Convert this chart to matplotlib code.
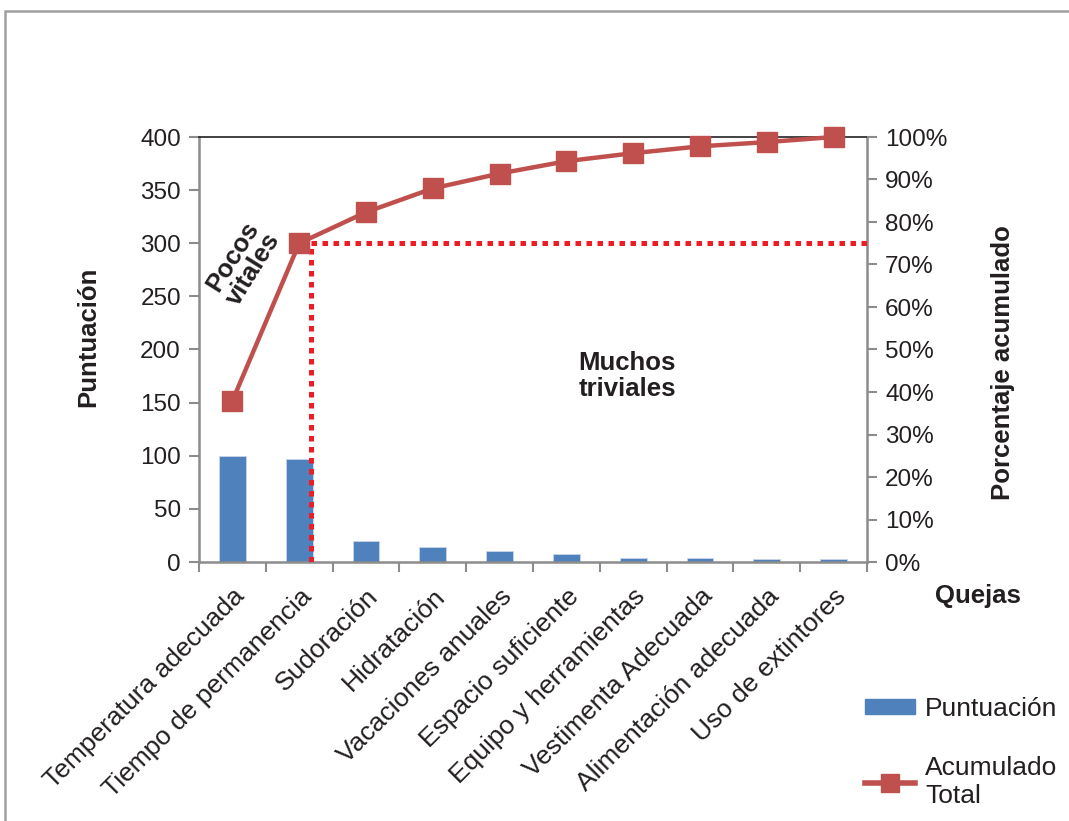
import matplotlib
matplotlib.use("Agg")
import matplotlib.pyplot as plt
from matplotlib.lines import Line2D
from matplotlib.patches import Patch, Rectangle
from matplotlib.ticker import FuncFormatter

plt.rcParams['font.family'] = ['Liberation Sans', 'DejaVu Sans']

# Complaint categories and their scores
quejas = [
    "Temperatura adecuada", "Tiempo de permanencia", "Sudoración", "Hidratación",
    "Vacaciones anuales", "Espacio suficiente", "Equipo y herramientas",
    "Vestimenta Adecuada", "Alimentación adecuada", "Uso de extintores",
]
puntuacion = [100, 97, 20, 14, 10, 8, 4, 4, 3, 3]
acumulado_pct = [37.9, 75.0, 82.3, 87.9, 91.4, 94.3, 96.2, 97.8, 98.8, 100.0]

# Pareto cut between the "vital few" and the "trivial many"
corte_pct = 75.0
corte_x = 1.17

BAR_COLOR = "#4F81BD"
LINE_COLOR = "#C0504D"
CUT_COLOR = "#EE1C25"
AXIS_GRAY = "#8C8C8C"
TEXT_COLOR = "#231F20"

fig = plt.figure(figsize=(10.69, 8.21), dpi=100)
ax = fig.add_axes([199 / 1069, 1 - 562 / 821, (867 - 199) / 1069, (562 - 137) / 821])

x = list(range(len(quejas)))
ax.bar(x, puntuacion, width=0.4, color=BAR_COLOR, edgecolor="#C9D6EA", linewidth=0.6, zorder=2)
ax.set_xlim(-0.5, len(quejas) - 0.5)
ax.set_ylim(0, 400)
ax.set_yticks(range(0, 401, 50))

# category ticks sit between bars, labels under the bar centres
ax.set_xticks([i - 0.5 for i in range(len(quejas) + 1)])
ax.set_xticklabels([])
ax.set_xticks(x, minor=True)
ax.set_xticklabels(quejas, minor=True, rotation=45, ha="right", va="top",
                   rotation_mode="anchor", fontsize=19, color=TEXT_COLOR)
ax.tick_params(axis="x", which="minor", length=0, pad=16)
ax.tick_params(axis="x", which="major", length=7, width=1.5, color=AXIS_GRAY)
ax.tick_params(axis="y", length=7, width=1.5, color=AXIS_GRAY, labelsize=17.5,
               labelcolor=TEXT_COLOR, pad=6)

for side in ("left", "bottom", "right"):
    ax.spines[side].set_color(AXIS_GRAY)
    ax.spines[side].set_linewidth(1.8)
ax.spines["top"].set_color("#222222")
ax.spines["top"].set_linewidth(1.2)

# cumulative percentage on the secondary axis
ax2 = ax.twinx()
ax2.set_ylim(0, 100)
ax2.set_yticks(range(0, 101, 10))
ax2.yaxis.set_major_formatter(FuncFormatter(lambda v, _: f"{int(v)}%"))
ax2.tick_params(axis="y", length=7, width=1.5, color=AXIS_GRAY, labelsize=17.5,
                labelcolor=TEXT_COLOR, pad=6)
for side in ("left", "bottom", "right", "top"):
    ax2.spines[side].set_visible(False)

ax2.plot([corte_x, corte_x], [0, corte_pct], color=CUT_COLOR, linewidth=3.6,
         linestyle=(0, (1.1, 1.1)), zorder=3)
ax2.plot([corte_x, len(quejas) - 0.5], [corte_pct, corte_pct], color=CUT_COLOR,
         linewidth=3.6, linestyle=(0, (1.1, 1.1)), zorder=3, clip_on=False)
ax2.plot(x, acumulado_pct, color=LINE_COLOR, linewidth=3.2, marker="s",
         markersize=14, markerfacecolor=LINE_COLOR, markeredgecolor=LINE_COLOR,
         zorder=4, clip_on=False)

fig.text(88 / 1069, 1 - 337 / 821, "Puntuación", rotation=90, ha="center",
         va="center", fontsize=18.5, fontweight="bold", color=TEXT_COLOR)
fig.text(1003 / 1069, 1 - 363 / 821, "Porcentaje acumulado", rotation=90,
         ha="center", va="center", fontsize=18.5, fontweight="bold", color=TEXT_COLOR)
fig.text(978 / 1069, 1 - 596 / 821, "Quejas", ha="center", va="center",
         fontsize=18.5, fontweight="bold", color=TEXT_COLOR)

fig.text(243 / 1069, 1 - 263 / 821, "Pocos\nvitales", rotation=58, ha="center",
         va="center", fontsize=18.5, fontweight="bold", color=TEXT_COLOR,
         linespacing=1.0)
fig.text(627 / 1069, 1 - 376 / 821, "Muchos\ntriviales", ha="center", va="center",
         fontsize=18.5, fontweight="bold", color=TEXT_COLOR, linespacing=1.15)

handles = [
    Patch(facecolor=BAR_COLOR, edgecolor=BAR_COLOR),
    Line2D([0], [0], color=LINE_COLOR, linewidth=4, marker="s", markersize=13),
]
fig.legend(handles, ["Puntuación", "Acumulado\nTotal"], loc="upper left",
           bbox_to_anchor=(841 / 1069, 1 - 673 / 821), frameon=False,
           fontsize=19, handlelength=1.9, handleheight=0.5, labelspacing=1.35,
           handletextpad=0.38, labelcolor=TEXT_COLOR)

# light frame around the whole chart area
fig.patches.append(Rectangle((5 / 1069, -0.1), 1.2, 1 - 11 / 821 + 0.1,
                             transform=fig.transFigure, fill=False,
                             edgecolor="#A0A0A0", linewidth=1.8))

fig.savefig("out.png", dpi=100, facecolor="white")
